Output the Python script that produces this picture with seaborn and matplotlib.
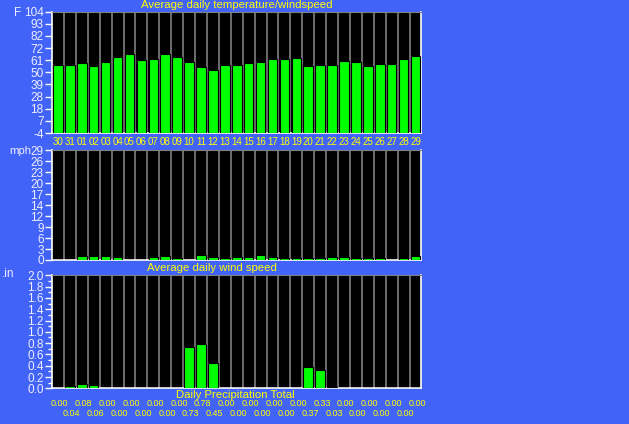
import numpy as np
import pandas as pd
import matplotlib
matplotlib.use("Agg")
import matplotlib.pyplot as plt
import matplotlib.transforms as mtransforms
import seaborn as sns

days = ["30", "31", "01", "02", "03", "04", "05", "06", "07", "08", "09", "10",
        "11", "12", "13", "14", "15", "16", "17", "18", "19", "20", "21", "22",
        "23", "24", "25", "26", "27", "28", "29"]
temp_f = [56.7, 56.7, 58.4, 55.8, 59.3, 63.8, 66.4, 61.1, 62.0, 66.4, 63.8, 59.3,
          54.9, 52.2, 56.7, 56.7, 58.4, 59.3, 62.0, 62.0, 62.9, 55.8, 56.7, 56.7,
          60.2, 59.3, 55.8, 57.5, 57.5, 62.0, 64.6]
wind_mph = [0.0, 0.0, 1.15, 1.15, 1.15, 0.9, 0.0, 0.0, 0.9, 1.15, 0.6, 0.0,
            1.4, 0.9, 0.6, 0.9, 0.9, 1.4, 0.9, 0.6, 0.6, 0.6, 0.6, 0.9,
            0.9, 0.6, 0.6, 0.6, 0.0, 0.6, 1.15]
precip_in = [0.00, 0.04, 0.08, 0.06, 0.00, 0.00, 0.00, 0.00, 0.00, 0.00, 0.00, 0.73,
             0.78, 0.45, 0.00, 0.00, 0.00, 0.00, 0.00, 0.00, 0.00, 0.37, 0.33, 0.03,
             0.00, 0.00, 0.00, 0.00, 0.00, 0.00, 0.00]

temp_ticks = ["-4", "7", "18", "28", "39", "50", "61", "72", "82", "93", "104"]
wind_ticks = ["0", "3", "6", "9", "12", "14", "17", "20", "23", "26", "29"]
precip_ticks = ["0.0", "0.2", "0.4", "0.6", "0.8", "1.0", "1.2", "1.4", "1.6", "1.8", "2.0"]

BG = "#4263F7"
YEL = "#FFFF00"
TICKC = "#EEEEFF"
GREEN = "#00FF00"

sns.set_style("dark")
plt.rcParams["font.family"] = ["Liberation Sans", "DejaVu Sans"]

df = pd.DataFrame({"day": days, "idx": np.arange(len(days)), "temp": temp_f,
                   "wind": wind_mph, "precip": precip_in})

W, H = 629, 424
fig = plt.figure(figsize=(W / 100, H / 100), dpi=100, facecolor=BG)


def px_axes(left, top, right, bottom):
    return fig.add_axes([left / W, 1 - bottom / H, (right - left) / W, (bottom - top) / H])


ax1 = px_axes(52, 11.7, 421.5, 133)
ax2 = px_axes(52, 150.3, 421.5, 260)
ax3 = px_axes(52, 275.3, 421.5, 388.3)

specs = [
    (ax1, "temp", -4, 104, temp_ticks, False),
    (ax2, "wind", 0, 29, wind_ticks, False),
    (ax3, "precip", 0, 2.0, precip_ticks, True),
]

n = len(days)
for ax, col, lo, hi, tlabels, minor in specs:
    ax.set_facecolor("black")
    ax.vlines(np.arange(0.5, n - 1, 1), lo, hi, color="#808080", lw=1.2, zorder=1)
    sns.barplot(data=df, x="idx", y=col, ax=ax, color=GREEN, edgecolor="black",
                linewidth=0.8, width=0.8, saturation=1, zorder=3)
    if col == "temp":
        for p in ax.patches:
            p.set_y(lo)
            p.set_height(p.get_height() - lo)
    ax.set_xlim(-0.5, n - 0.5)
    ax.set_ylim(lo, hi)
    ax.set_yticks(np.linspace(lo, hi, 11))
    ax.set_yticklabels(tlabels)
    if minor:
        ax.set_yticks(np.linspace(lo, hi, 21), minor=True)
        ax.tick_params(axis="y", which="minor", length=3, width=1, color="white", left=True)
    ax.tick_params(axis="y", which="major", length=5, width=1, color="white", left=True,
                   labelcolor=TICKC, labelsize=8.5, pad=1)
    ax.set_xlabel("")
    ax.set_ylabel("")
    ax.grid(False)
    for s in ["left", "bottom", "right"]:
        ax.spines[s].set_visible(True)
        ax.spines[s].set_color("white")
        ax.spines[s].set_linewidth(1.2)
    ax.spines["top"].set_visible(True)
    ax.spines["top"].set_color("#808080")

ax1.set_xticks(range(n))
ax1.set_xticklabels(days)
ax1.tick_params(axis="x", length=0, labelcolor=YEL, labelsize=7, pad=3)
for ax in (ax2, ax3):
    ax.set_xticks([])

fig.text(236.7 / W, 1 - 5 / H, "Average daily temperature/windspeed", color=YEL,
         fontsize=8.2, ha="center", va="center")
fig.text(211.7 / W, 1 - 267.7 / H, "Average daily wind speed", color=YEL,
         fontsize=8.2, ha="center", va="center")
fig.text(235 / W, 1 - 395 / H, "Daily Precipitation Total", color=YEL,
         fontsize=8.2, ha="center", va="center")

fig.text(18 / W, 1 - 13 / H, "F", color=TICKC, fontsize=8.5, ha="center", va="center")
fig.text(31 / W, 1 - 151 / H, "mph", color=TICKC, fontsize=8.2, ha="right", va="center")
fig.text(8.5 / W, 1 - 274 / H, ".in", color=TICKC, fontsize=8.5, ha="center", va="center")

trans = mtransforms.blended_transform_factory(ax3.transData, fig.transFigure)
for i, v in enumerate(precip_in):
    ypx = 404 if i % 2 == 0 else 413
    ax3.text(i + 0.15, 1 - ypx / H, f"{v:.2f}", color=YEL, fontsize=6.5,
             ha="center", va="center", transform=trans, clip_on=False)

fig.savefig("out.png", dpi=100, facecolor=BG)
